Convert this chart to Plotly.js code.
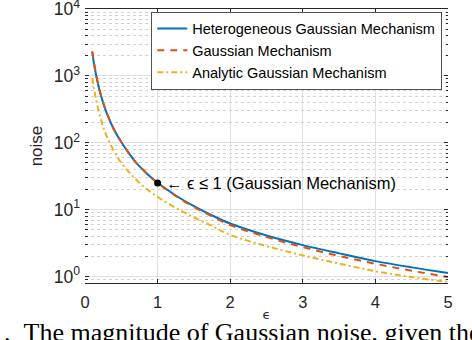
<!DOCTYPE html>
<html>
<head>
<meta charset="utf-8">
<script src="https://cdn.plot.ly/plotly-3.0.1.min.js"></script>
<style>html,body{margin:0;padding:0;background:#fff;overflow:hidden}#chart{width:472px;height:340px}</style>
</head>
<body>
<div id="chart"></div>
<script>
// epsilon values (x)
const epsilon = [0.1, 0.125, 0.15, 0.2, 0.25, 0.3, 0.4, 0.5, 0.6, 0.7, 0.8, 0.9, 1.0, 1.25, 1.5, 1.75, 2.0, 2.5, 3.0, 3.5, 4.0, 4.5, 5.0];
// Heterogeneous Gaussian Mechanism noise
const heterogeneous = [2250, 1500, 1070, 610, 395, 277, 157, 103, 71, 51, 39.5, 31, 25.2, 16.3, 11.3, 8.2, 6.2, 4.1, 2.95, 2.22, 1.7, 1.37, 1.13];
// Gaussian Mechanism noise
const gaussian = [2350, 1550, 1100, 620, 400, 280, 158, 103, 71, 51, 39.5, 30.8, 25, 16, 11, 7.9, 5.9, 3.9, 2.75, 2.03, 1.55, 1.22, 0.98];
// Analytic Gaussian Mechanism noise
const analytic = [930, 640, 460, 265, 175, 125, 75, 50, 37, 28.5, 22.5, 18.5, 15.5, 10.6, 7.7, 5.7, 4.2, 2.85, 2.07, 1.56, 1.2, 0.98, 0.83];
// highlighted point
const markX = [1];
const markY = [25];
const seriesNames = ['Heterogeneous Gaussian Mechanism', 'Gaussian Mechanism', 'Analytic Gaussian Mechanism'];
const xTicks = [0, 1, 2, 3, 4, 5];
const yTickVals = [1, 10, 100, 1000, 10000];
const yTickText = ['10<sup>0</sup>', '10<sup>1</sup>', '10<sup>2</sup>', '10<sup>3</sup>', '10<sup>4</sup>'];

const F = 'Liberation Sans, Arial, Helvetica, sans-serif';
const traces = [
  {x: epsilon, y: heterogeneous, name: seriesNames[0], mode: 'lines', line: {color: '#0072BD', width: 2, shape: 'spline'}},
  {x: epsilon, y: gaussian, name: seriesNames[1], mode: 'lines', line: {color: '#D95319', width: 2, dash: '7px,6px', shape: 'spline'}},
  {x: epsilon, y: analytic, name: seriesNames[2], mode: 'lines', line: {color: '#EDB120', width: 2, dash: '6px,3px,2px,3px', shape: 'spline'}},
  {x: markX, y: markY, mode: 'markers', showlegend: false, marker: {color: '#000', size: 7}}
];
const layout = {
  width: 472, height: 340,
  margin: {l: 85, r: 23.5, t: 9.3, b: 57},
  paper_bgcolor: '#fff', plot_bgcolor: '#fff',
  font: {family: F, color: '#262626', size: 15},
  showlegend: true,
  legend: {x: 0.982, y: 0.99, xanchor: 'right', yanchor: 'top', bgcolor: '#fff', bordercolor: '#262626', borderwidth: 0.8,
           font: {family: F, size: 14.5, color: '#000'}, tracegroupgap: 0},
  xaxis: {range: [0, 5], tickvals: xTicks, ticks: 'inside', ticklen: 4, tickcolor: '#262626',
          showline: true, linecolor: '#262626', linewidth: 1, mirror: 'ticks', zeroline: false,
          showgrid: true, gridcolor: '#e0e0e0', gridwidth: 1, ticklabelstandoff: 4,
          tickfont: {size: 16.5, family: F, color: '#262626'},
          title: {text: 'ϵ', font: {size: 13, family: 'DejaVu Sans, sans-serif', color: '#262626'}, standoff: 0}},
  yaxis: {type: 'log', range: [Math.log10(0.8), 4.001], tickmode: 'array', tickvals: yTickVals, ticktext: yTickText,
          ticks: 'inside', ticklen: 4, tickcolor: '#262626', showline: false, mirror: 'ticks', zeroline: false,
          showgrid: true, gridcolor: '#e0e0e0', gridwidth: 1, ticklabelstandoff: 4, ticklabeloverflow: 'allow',
          tickfont: {size: 17.5, family: F, color: '#262626'},
          minor: {dtick: 'D1', ticks: 'inside', ticklen: 2.5, tickcolor: '#262626', showgrid: true, gridcolor: '#d2d2d2', griddash: 'dot', gridwidth: 1},
          title: {text: 'noise', font: {size: 17, family: F, color: '#262626'}, standoff: 6}},
  annotations: [
    {x: 1.09, y: Math.log10(25), xref: 'x', yref: 'y', xanchor: 'left', yanchor: 'middle', showarrow: false,
     text: '← ϵ ≤ 1 (Gaussian Mechanism)', font: {size: 16.5, family: F, color: '#000'}},
    {x: (-11.5 - 85) / 363.5, y: -0.182, xref: 'paper', yref: 'paper', xanchor: 'left', yanchor: 'middle', showarrow: false,
     text: '1.\u00A0\u00A0The magnitude of Gaussian noise, given the', font: {size: 26, family: 'Liberation Serif, Times New Roman, serif', color: '#000'}}
  ]
};
Plotly.newPlot('chart', traces, layout, {displayModeBar: false, staticPlot: true});
</script>
</body>
</html>
